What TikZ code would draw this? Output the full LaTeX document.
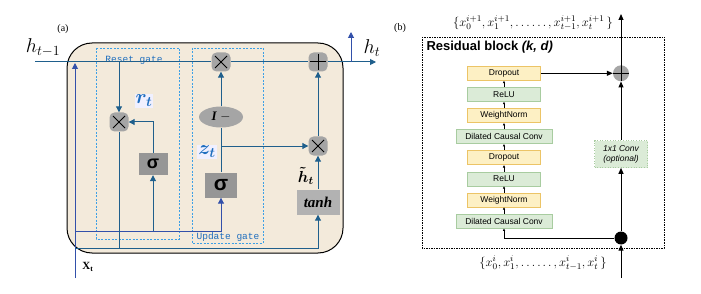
\RequirePackage{fix-cm}
\documentclass[tikz,border=0pt]{standalone}
\usepackage{amsmath, amssymb}
\usepackage{fontspec}
\setmainfont{Liberation Serif}
\setsansfont{Liberation Sans}
\setmonofont{Liberation Mono}
\usepackage{tikz}
\usetikzlibrary{arrows.meta, positioning, shapes.geometric}
\definecolor{cellBeige}{RGB}{243, 234, 219}
\definecolor{flowBlue}{RGB}{31, 95, 140}
\definecolor{xBlue}{RGB}{50, 80, 170}
\definecolor{gateBlue}{RGB}{60, 160, 230}
\definecolor{labelBlue}{RGB}{30, 110, 190}
\definecolor{opGray}{RGB}{165, 165, 165}
\definecolor{sigGray}{RGB}{150, 150, 150}
\definecolor{tanhGray}{RGB}{178, 178, 178}
\definecolor{yelFill}{RGB}{253, 240, 196}
\definecolor{yelDraw}{RGB}{236, 196, 102}
\definecolor{grnFill}{RGB}{219, 235, 215}
\definecolor{grnDraw}{RGB}{168, 204, 160}

\tikzset{
  flow/.style={draw=flowBlue, line width=1pt},
  xflow/.style={draw=xBlue, line width=1pt},
  tipa/.style={-{Triangle[length=6pt, width=6pt]}},
  opbox/.style={rectangle, rounded corners=5pt, fill=opGray, minimum size=19pt, inner sep=0pt},
  mult/.style={opbox, path picture={
      \draw[line width=0.8pt]
        ([shift={(-6pt,-6pt)}]path picture bounding box.center) -- ([shift={(6pt,6pt)}]path picture bounding box.center)
        ([shift={(-6pt,6pt)}]path picture bounding box.center) -- ([shift={(6pt,-6pt)}]path picture bounding box.center);}},
  addop/.style={opbox, path picture={
      \draw[line width=1pt]
        ([shift={(-8pt,0pt)}]path picture bounding box.center) -- ([shift={(8pt,0pt)}]path picture bounding box.center)
        ([shift={(0pt,-8pt)}]path picture bounding box.center) -- ([shift={(0pt,8pt)}]path picture bounding box.center);}},
  sigbox/.style={rectangle, fill=sigGray, inner sep=0pt},
  gatebox/.style={draw=gateBlue, dash pattern=on 2pt off 1.5pt, line width=0.7pt},
  gatetext/.style={text=labelBlue, font=\ttfamily\fontsize{9.5}{10}\selectfont},
  blocktext/.style={font=\sffamily\fontsize{8.5}{10}\selectfont, minimum height=14pt, inner sep=0pt, line width=0.6pt},
  yelbox/.style={blocktext, fill=yelFill, draw=yelDraw, minimum width=73pt},
  grnbox/.style={blocktext, fill=grnFill, draw=grnDraw, minimum width=73pt},
  small/.style={-{Latex[length=2.5pt, width=2.5pt]}, line width=0.6pt},
  tipb/.style={-{Triangle[length=6pt, width=5pt]}},
}

\begin{document}
\begin{tikzpicture}[x=1pt, y=-1pt]
  \useasboundingbox[fill=white] (0,0) rectangle (701,294);

  % (a) GRU cell
  \node[font=\fontsize{10}{12}\selectfont] (laba) at (63,29) {(a)};
  \node[draw=black, line width=1pt, fill=cellBeige, rounded corners=25pt,
        minimum width=276pt, minimum height=210pt] (cell) at (205,148) {};
  \draw[gatebox] (96,48) rectangle (179,239);
  \draw[gatebox] (192,48) rectangle (263,243);
  \node[gatetext] (rgate) at (134,60) {Reset gate};
  \node[gatetext] (ugate) at (228,237) {Update gate};

  \node[mult] (mr) at (119,122) {};
  \node[sigbox, minimum width=29pt, minimum height=22pt] (sr) at (153,164)
    {\sffamily\bfseries\fontsize{18}{18}\selectfont σ};
  \node[mult] (mu) at (221,62) {};
  \node[ellipse, fill=opGray, minimum width=44pt, minimum height=21pt, inner sep=0pt] (om) at (221,117)
    {\fontsize{13}{13}\selectfont\textbf{\textit{I}} $-$};
  \node[sigbox, minimum width=32pt, minimum height=25pt] (su) at (221,185)
    {\sffamily\bfseries\fontsize{21}{21}\selectfont σ};
  \node[addop] (pl) at (318,62) {};
  \node[mult] (mh) at (318,146) {};
  \node[sigbox, fill=tanhGray, minimum width=43pt, minimum height=25pt] (th) at (318,202)
    {\fontsize{15}{15}\selectfont\textbf{\textit{tanh}}};

  \node (hprev) at (43,48) {\fontsize{20}{22}\selectfont$h_{t-1}$};
  \node (hnext) at (372,48) {\fontsize{20}{22}\selectfont$h_t$};
  \node[text=labelBlue, fill=blue!6, inner sep=1pt] (rt) at (144,101) {\fontsize{20}{20}\selectfont$\boldsymbol{r_t}$};
  \node[text=labelBlue, fill=blue!6, inner sep=1pt] (zt) at (207,152) {\fontsize{20}{20}\selectfont$\boldsymbol{z_t}$};
  \node[anchor=east, inner sep=1pt] (htil) at (315,176) {\fontsize{16}{16}\selectfont$\boldsymbol{\tilde{h}_t}$};
  \node (xt) at (88,267) {\fontsize{11}{11}\selectfont\textbf{X}\textsubscript{\textbf{t}}};

  \coordinate (hin) at (35,62);
  \coordinate (hout) at (376,62);
  \coordinate (hup) at (351,62);
  \coordinate (hupend) at (351,32);
  \coordinate (xin) at (75,278);
  \coordinate (xtop) at (75,63);
  \coordinate (xa) at (75,231);
  \coordinate (xb) at (75,248);

  \draw[flow] (hin) -- (mu.west);
  \draw[flow] (mu.east) -- (pl.west);
  \draw[flow, tipa] (pl.east) -- (hout);
  \draw[xflow, tipa] (hup) -- (hupend);
  \draw[flow, tipa] (mr |- hin) -- (mr.north);
  \draw[flow, tipa] (sr.north) |- (mr.east);
  \draw[flow] (su.north) -- (om.south);
  \draw[flow, tipa] (om.north) -- (mu.south);
  \draw[flow, tipa] (su |- mh) -- (mh.west);
  \draw[flow, tipa] (th.north) -- (mh.south);
  \draw[flow, tipa] (mh.north) -- (pl.south);
  \draw[xflow, tipa] (xin) -- (xtop);
  \draw[xflow, tipa] (xa) -| (su.south);
  \draw[flow, tipa] (sr |- xa) -- (sr.south);
  \draw[flow] (xb) -| (mr.south);
  \draw[flow, tipa] (xb) -| (th.south);

  % (b) residual block
  \node[font=\fontsize{10}{12}\selectfont] (labb) at (400,28) {(b)};
  \draw[line width=0.8pt, dash pattern=on 1.5pt off 1pt] (422,37) rectangle (664,248);
  \node[anchor=west, font=\sffamily\bfseries\fontsize{13}{15}\selectfont] (title) at (423,47) {Residual block \textit{(k, d)}};

  \node[grnbox, minimum width=96pt] (conv1) at (504,221) {Dilated Causal Conv};
  \node[yelbox, above=6.5pt of conv1] (wn1) {WeightNorm};
  \node[grnbox, above=6.5pt of wn1] (relu1) {ReLU};
  \node[yelbox, above=6.5pt of relu1] (drop1) {Dropout};
  \node[grnbox, minimum width=96pt, above=6.5pt of drop1] (conv2) {Dilated Causal Conv};
  \node[yelbox, above=6.5pt of conv2] (wn2) {WeightNorm};
  \node[grnbox, above=6.5pt of wn2] (relu2) {ReLU};
  \node[yelbox, above=6.5pt of relu2] (drop2) {Dropout};
  \foreach \a/\b in {conv1/wn1, wn1/relu1, relu1/drop1, drop1/conv2, conv2/wn2, wn2/relu2, relu2/drop2}
    \draw[small] (\a.north) -- (\b.south);

  \node[circle, fill=black, minimum size=13pt, inner sep=0pt] (fork) at (621,238) {};
  \node[circle, fill=gray!70, minimum size=16pt, inner sep=0pt] (add) at (drop2 -| fork) {};
  \node[blocktext, fill=grnFill, draw=grnDraw, dotted, align=center, minimum width=53pt, minimum height=27pt,
        font=\sffamily\itshape\fontsize{8.5}{10}\selectfont] (skip) at (621,154) {1x1 Conv\\(optional)};

  \coordinate (bin) at (621,278);
  \coordinate (bout) at (621,14);
  \draw[line width=1pt, tipb] (bin) -- (fork.south);
  \draw[line width=1pt, tipb] (fork.north) -- (skip.south);
  \draw[line width=1pt, tipb] (skip.north) -- (add.south);
  \draw[line width=1pt, tipb] (add.north) -- (bout);
  \draw[line width=1pt, tipb] (drop2.east) -- (add.west);
  \draw[line width=0.8pt] (add.west) -- (add.east) (add.north) -- (add.south);
  \draw[line width=0.7pt, small] (fork.west) -| (conv1.south);

  \node[font=\fontsize{12.5}{14}\selectfont] (xout) at (533,23)
    {$\{x_0^{i+1}, x_1^{i+1}, \ldots\ldots, x_{t-1}^{i+1}, x_t^{i+1}\,\}$};
  \node[font=\fontsize{12.5}{14}\selectfont] (xinp) at (543,263)
    {$\{x_0^{i}, x_1^{i}, \ldots\ldots, x_{t-1}^{i}, x_t^{i}\,\}$};
\end{tikzpicture}
\end{document}
